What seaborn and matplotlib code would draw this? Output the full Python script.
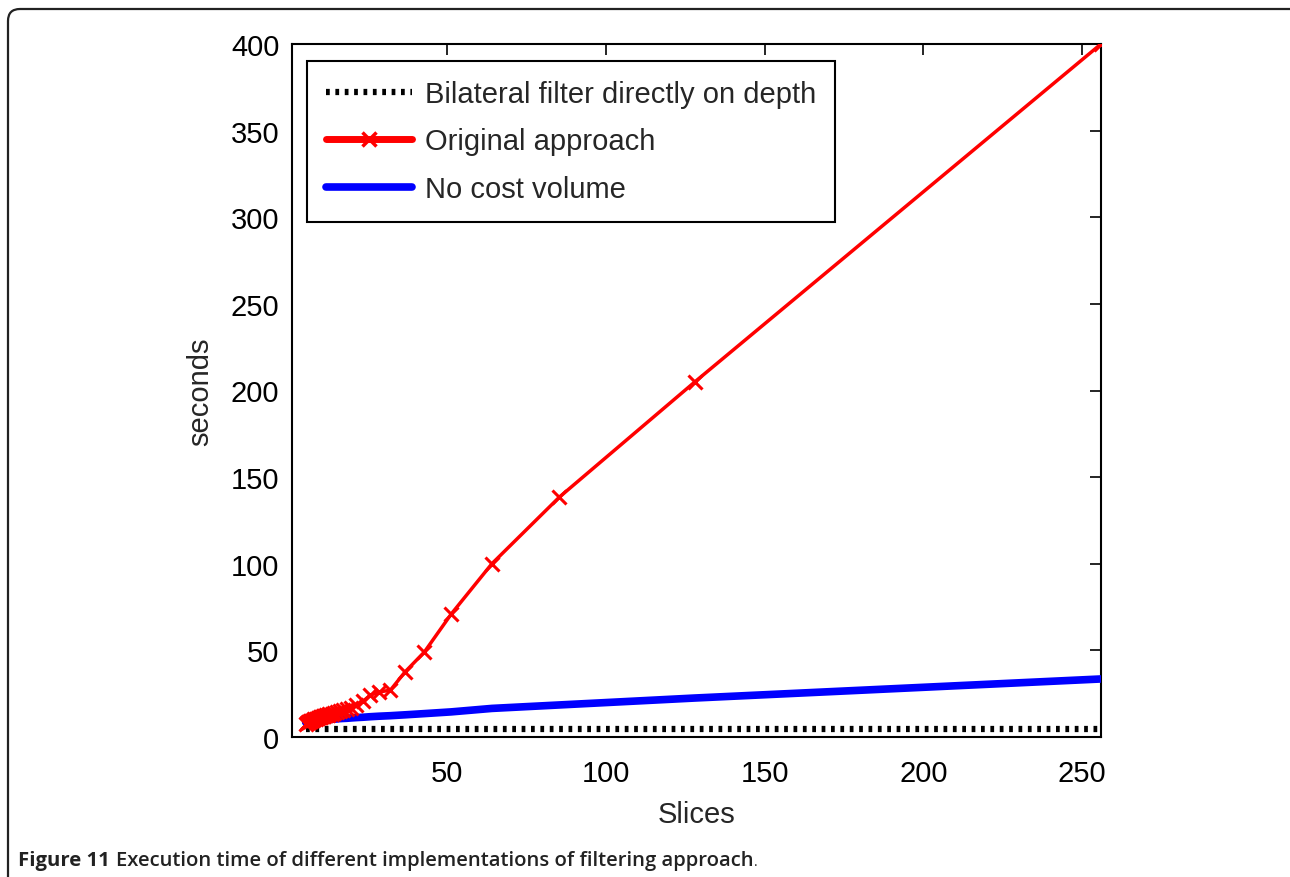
import numpy as np
import pandas as pd
import matplotlib
matplotlib.use("Agg")
import matplotlib.pyplot as plt
from matplotlib.patches import FancyBboxPatch
from matplotlib.lines import Line2D
from matplotlib import font_manager
import seaborn as sns

# ---- data ----
slices = [256, 128, 85.3, 64, 51.2, 42.7, 36.6, 32, 28.4, 25.6, 23.3, 21.3,
          19.7, 18.3, 17.1, 16, 15.1, 14.2, 13.5, 12.8, 12.2, 11.6, 11.1,
          10.7, 10.2, 9.8, 9.1, 8.5, 8.0, 7.5, 7.1, 6.7, 6.4, 6.1, 5.8, 5.3]
original = [400, 205, 138.5, 100, 71, 49, 37.5, 27, 26, 24, 20.5, 18.5,
            17, 16, 15.5, 15, 14.5, 14, 13.5, 13, 12.8, 12.5, 12.2,
            12, 11.7, 11.4, 11, 10.6, 10.2, 9.8, 9.4, 9.0, 8.7, 8.4, 8.1, 7.5]
no_cost = [33.5, 22.5, 18.5, 16.5, 14.5, 13.5, 12.8, 12.3, 12, 11.7, 11.4, 11.2,
           11, 10.8, 10.7, 10.6, 10.4, 10.3, 10.2, 10.1, 10, 9.9, 9.8,
           9.7, 9.6, 9.5, 9.4, 9.3, 9.2, 9.1, 9.0, 8.9, 8.8, 8.7, 8.6, 8.5]
bilateral = [4.6] * len(slices)

labels = ["Bilateral filter directly on depth", "Original approach", "No cost volume"]
xticks = [50, 100, 150, 200, 250]
yticks = [0, 50, 100, 150, 200, 250, 300, 350, 400]

df = pd.DataFrame({"slices": slices, "original": original,
                   "no_cost": no_cost, "bilateral": bilateral})

sns.set_style("white")
installed = {f.name for f in font_manager.fontManager.ttflist}
if "Liberation Sans Narrow" in installed:
    FAM = ["Liberation Sans Narrow", "DejaVu Sans"]
    FS = 25.5
else:
    FAM = ["Liberation Sans", "DejaVu Sans"]
    FS = 21
plt.rcParams["font.family"] = FAM

W, H = 1290, 878
fig = plt.figure(figsize=(W / 100, H / 100), dpi=100)
ax = fig.add_axes([292 / W, 1 - 738 / H, (1101 - 292) / W, (738 - 45) / H])

sns.lineplot(data=df, x="slices", y="bilateral", ax=ax, color="black",
             linestyle=(0, (0.6, 0.9)), linewidth=4.5, sort=True,
             estimator=None, zorder=2)
sns.lineplot(data=df, x="slices", y="no_cost", ax=ax, color="#0000ff",
             linewidth=5.5, sort=True, estimator=None, zorder=3)
sns.lineplot(data=df, x="slices", y="original", ax=ax, color="#ff0000",
             linewidth=2.5, marker="x", markersize=10, markeredgewidth=2.2,
             markeredgecolor="#ff0000", sort=True, estimator=None, zorder=4)

ax.set_xlim(1, 256)
ax.set_ylim(0, 400)
ax.set_xticks(xticks)
ax.set_yticks(yticks)
ax.set_xlabel("Slices", fontsize=FS, labelpad=9)
ax.set_ylabel("seconds", fontsize=FS, labelpad=12)
ax.tick_params(axis="both", which="both", direction="in", length=8, width=1.2,
               top=True, right=True, labelsize=FS, colors="black")
ax.tick_params(axis="x", pad=16)
ax.tick_params(axis="y", pad=9)
for s in ax.spines.values():
    s.set_visible(True)
    s.set_color("black")
    s.set_linewidth(1.5)

handles = [
    Line2D([], [], color="black", linestyle=(0, (0.6, 0.9)), linewidth=4.5),
    Line2D([], [], color="#ff0000", linewidth=5, marker="x", markersize=10,
           markeredgewidth=2.5),
    Line2D([], [], color="#0000ff", linewidth=5.5),
]
leg = ax.legend(handles, labels, loc="upper left",
                bbox_to_anchor=((307 - 292) / 809, (738 - 62) / 693),
                borderaxespad=0,
                fontsize=FS, frameon=True, fancybox=False, edgecolor="black",
                framealpha=1, handlelength=2.95, handletextpad=0.45,
                labelspacing=0.67, borderpad=0.65, numpoints=1)
leg.get_frame().set_linewidth(1.5)

# rounded outer border
box = FancyBboxPatch((8, -30), 1300, H - 10 + 30,
                     boxstyle="round,pad=0,rounding_size=12",
                     transform=None, fill=False, edgecolor="#222222",
                     linewidth=1.6, clip_on=False)
fig.patches.append(box)

# caption
t1 = fig.text(18 / W, 1 - 866 / H, "Figure 11", fontsize=14.6,
              fontweight="bold", family="Open Sans", color="#222222",
              va="baseline")
fig.canvas.draw()
bb = t1.get_window_extent()
t2 = fig.text((bb.x1 + 6) / W, 1 - 866 / H,
              "Execution time of different implementations of filtering approach",
              fontsize=14.6, fontweight="semibold", family="Open Sans",
              color="#222222", va="baseline")
fig.canvas.draw()
bb2 = t2.get_window_extent()
fig.text((bb2.x1 + 1) / W, 1 - 866 / H, ".", fontsize=10,
         family="Open Sans", color="#222222", va="baseline")

fig.savefig("out.png", dpi=100)
